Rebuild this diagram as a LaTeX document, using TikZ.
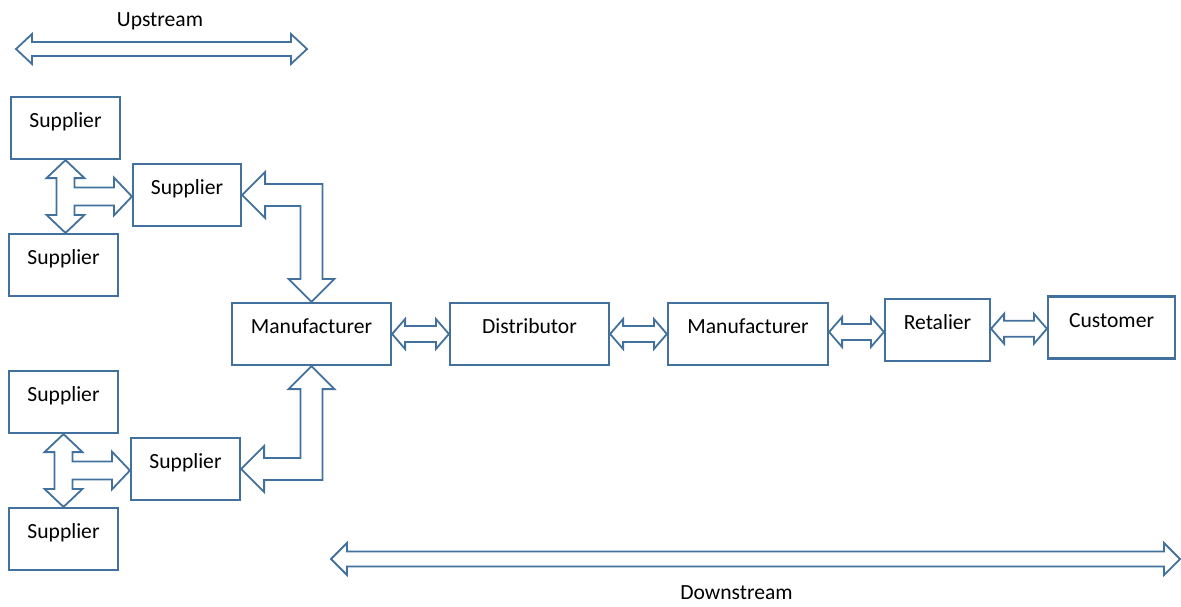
\documentclass[tikz,border=0pt]{standalone}
\usepackage{fontspec}
\setmainfont{Carlito}
\usetikzlibrary{calc}
\definecolor{ChainBlue}{HTML}{41719C}
\tikzset{
  party/.style={draw=ChainBlue, line width=1.1pt, fill=white,
    inner xsep=0pt, inner ysep=0pt, text height=15.25pt, text depth=15.75pt,
    font=\fontsize{10.8}{13}\selectfont},
  flow/.style={draw=ChainBlue, line width=0.9pt, fill=white, line join=miter},
  caption/.style={inner sep=0pt, font=\fontsize{10.8}{13}\selectfont}
}
% two-headed block arrow: from, to, head length, head half width, shaft half width
\newcommand{\biArrow}[5]{%
  \draw[flow] let \p1=(#1), \p2=(#2), \p3=($(#1)!0.5!(#2)$) in
    (\x1,\y3) -- ({\x1+#3},{\y3+#4}) -- ({\x1+#3},{\y3+#5})
    -- ({\x2-#3},{\y3+#5}) -- ({\x2-#3},{\y3+#4}) -- (\x2,\y3)
    -- ({\x2-#3},{\y3-#4}) -- ({\x2-#3},{\y3-#5})
    -- ({\x1+#3},{\y3-#5}) -- ({\x1+#3},{\y3-#4}) -- cycle;}
% three-headed arrow: upper box, lower box, right box
\newcommand{\triArrow}[3]{%
  \draw[flow] let \p1=(#1.south), \p2=(#2.north), \p3=(#3.west),
    \p4=($(\p1)!0.5!(\p2)$) in
    (\x1,\y1) -- ({\x1+9.5pt},{\y1-9pt}) -- ({\x1+4.5pt},{\y1-9pt})
    -- ({\x1+4.5pt},{\y4+4.5pt}) -- ({\x3-9pt},{\y4+4.5pt})
    -- ({\x3-9pt},{\y4+9.5pt}) -- (\x3,\y4) -- ({\x3-9pt},{\y4-9.5pt})
    -- ({\x3-9pt},{\y4-4.5pt}) -- ({\x1+4.5pt},{\y4-4.5pt})
    -- ({\x1+4.5pt},{\y2+9pt}) -- ({\x1+9.5pt},{\y2+9pt}) -- (\x1,\y2)
    -- ({\x1-9.5pt},{\y2+9pt}) -- ({\x1-4.5pt},{\y2+9pt})
    -- ({\x1-4.5pt},{\y1-9pt}) -- ({\x1-9.5pt},{\y1-9pt}) -- cycle;}

\begin{document}
\begin{tikzpicture}[x=0.5pt, y=-0.5pt]
\useasboundingbox (0,0) rectangle (1181,606);

% upstream suppliers
\node[party, minimum width=54.5pt] (supA) at (65.5,128) {Supplier};
\node[party, minimum width=54.5pt] (supB) at (63.5,265) {Supplier};
\node[party, minimum width=54pt] (supTop) at (187,195) {Supplier};
\node[party, minimum width=54.5pt] (supC) at (63.5,402) {Supplier};
\node[party, minimum width=54.5pt] (supD) at (63.5,539) {Supplier};
\node[party, minimum width=54.5pt] (supBot) at (185.5,469) {Supplier};

% main chain
\node[party, minimum width=79.5pt] (makerA) at (311.5,334) {Manufacturer};
\node[party, minimum width=79.5pt] (dist) at (529.5,334) {Distributor};
\node[party, minimum width=80pt] (makerB) at (748,334) {Manufacturer};
\node[party, minimum width=52.5pt] (retail) at (937.5,330) {Retalier};
\node[party, minimum width=63.5pt] (cust) at (1111.5,327.5) {Customer};

% supplier clusters
\triArrow{supA}{supB}{supTop}
\triArrow{supC}{supD}{supBot}

% elbow arrows into the first manufacturer
\draw[flow] let \p1=(supTop.east), \p2=(makerA.north) in
  (\x1,\y1) -- ({\x1+11.5pt},{\y1+11.5pt}) -- ({\x1+11.5pt},{\y1+5.5pt})
  -- ({\x2+5.5pt},{\y1+5.5pt}) -- ({\x2+5.5pt},{\y2+11.5pt})
  -- ({\x2+11.5pt},{\y2+11.5pt}) -- (\x2,\y2) -- ({\x2-11.5pt},{\y2+11.5pt})
  -- ({\x2-5.5pt},{\y2+11.5pt}) -- ({\x2-5.5pt},{\y1-5.5pt})
  -- ({\x1+11.5pt},{\y1-5.5pt}) -- ({\x1+11.5pt},{\y1-11.5pt}) -- cycle;
\draw[flow] let \p1=(supBot.east), \p2=(makerA.south) in
  (\x2,\y2) -- ({\x2+11.5pt},{\y2-11.5pt}) -- ({\x2+5.5pt},{\y2-11.5pt})
  -- ({\x2+5.5pt},{\y1-5.5pt}) -- ({\x1+11.5pt},{\y1-5.5pt})
  -- ({\x1+11.5pt},{\y1-11.5pt}) -- (\x1,\y1) -- ({\x1+11.5pt},{\y1+11.5pt})
  -- ({\x1+11.5pt},{\y1+5.5pt}) -- ({\x2-5.5pt},{\y1+5.5pt})
  -- ({\x2-5.5pt},{\y2-11.5pt}) -- ({\x2-11.5pt},{\y2-11.5pt}) -- cycle;

% links along the chain
\biArrow{makerA.east}{dist.west}{6.5pt}{7.5pt}{4pt}
\biArrow{dist.east}{makerB.west}{6.5pt}{7.5pt}{4pt}
\biArrow{makerB.east}{retail.west}{6.5pt}{7.5pt}{4pt}
\biArrow{retail.east}{cust.west}{6.5pt}{7.5pt}{4pt}

% direction markers
\coordinate (upL) at (16,49);
\coordinate (upR) at (307,49);
\coordinate (downL) at (331,559);
\coordinate (downR) at (1180,559);
\biArrow{upL}{upR}{8pt}{7.5pt}{3.5pt}
\biArrow{downL}{downR}{8pt}{8pt}{3.75pt}
\node[caption] (upText) at (160,21) {Upstream};
\node[caption] (downText) at (736.5,593) {Downstream};
\end{tikzpicture}
\end{document}
